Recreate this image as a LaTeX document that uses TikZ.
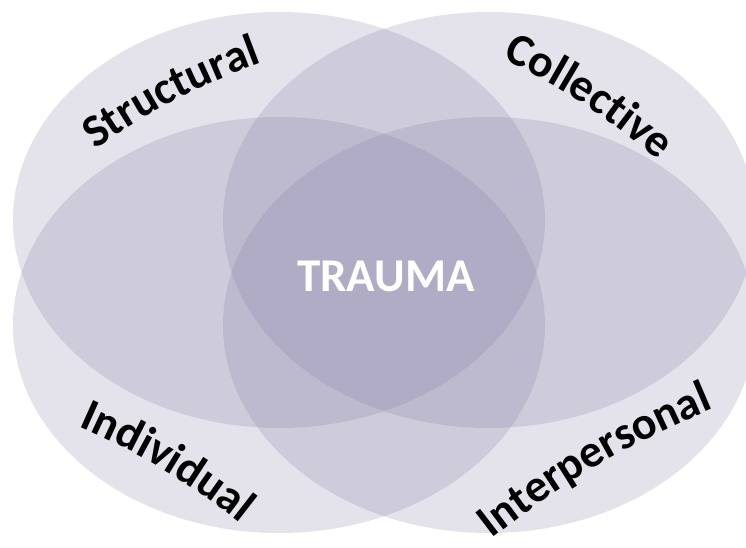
\documentclass[tikz,border=0pt]{standalone}
\usepackage{fontspec}
\newfontfamily\carlito{Carlito}
\usetikzlibrary{shapes.geometric, decorations.text}
\definecolor{venn}{RGB}{126,120,160}
\newcommand{\labelfont}{\carlito\bfseries\fontsize{46}{50}\selectfont}

\begin{document}
\begin{tikzpicture}[x=1pt, y=1pt,
    ring/.style={ellipse, fill=venn, fill opacity=.21, minimum width=532pt, minimum height=416pt, inner sep=0pt},
    arch/.style={decorate, decoration={text along path, text align=center, text={|\labelfont|#1}}}]
    \useasboundingbox (0,0) rectangle (746,548);
    % four overlapping fields
    \node[ring] (struct) at (279,328) {};
    \node[ring] (coll) at (489,328) {};
    \node[ring] (indiv) at (279,223) {};
    \node[ring] (inter) at (489,223) {};
    \node[text=white, font=\carlito\bfseries\fontsize{47}{50}\selectfont] (trauma) at (386,272) {TRAUMA};
    % ends of the arched labels
    \coordinate (structA) at (77.9,386.4);
    \coordinate (structB) at (281.7,492.8);
    \coordinate (collA) at (482.6,498.7);
    \coordinate (collB) at (675.2,372.9);
    \coordinate (indivA) at (59.4,129.9);
    \coordinate (indivB) at (256.6,11.5);
    \coordinate (interA) at (474.8,-3.8);
    \coordinate (interB) at (733.8,147.8);
    \path[arch=Structural] (structA) to[bend left=8] (structB);
    \path[arch=Collective] (collA) to[bend left=8] (collB);
    \path[arch=Individual] (indivA) to[bend left=8] (indivB);
    \path[arch=Interpersonal] (interA) to[bend left=8] (interB);
\end{tikzpicture}
\end{document}
